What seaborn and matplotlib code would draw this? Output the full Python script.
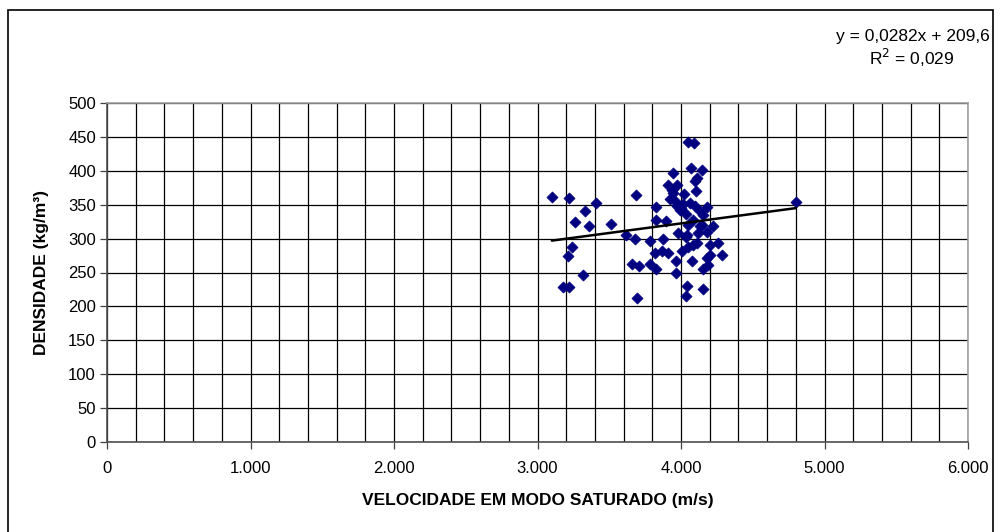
import numpy as np
import pandas as pd
import matplotlib
matplotlib.use("Agg")
import matplotlib.pyplot as plt
import seaborn as sns
from matplotlib.ticker import MultipleLocator, FuncFormatter
from matplotlib.patches import Rectangle

velocidade = [3100, 3220, 3410, 3330, 3260, 3360, 3515, 3240, 3210, 3320, 3180, 3220,
              3617, 3679, 3686, 3696, 3656, 3709, 3784, 3826, 3784, 3877, 3826, 3826,
              3895, 3819, 3865, 3912, 3965, 3965, 4005, 4051, 4086, 4109, 4202, 4260,
              4284, 4202, 4179, 4155, 4190, 4075, 4044, 4155, 4035, 4047, 4093, 3942,
              4072, 4144, 4114, 4098, 3912, 3970, 4105, 3935, 3947, 3923, 4021, 3970,
              4016, 4063, 4098, 3993, 4035, 4179, 4132, 4155, 4086, 4221, 4132, 4179,
              4121, 3981, 4040, 4035, 4801, 3960, 4000, 4050, 4144]
densidade = [362, 360, 352, 340, 325, 318, 322, 287, 275, 247, 228, 228,
             305, 300, 365, 213, 262, 260, 262, 255, 297, 299, 347, 328,
             326, 279, 282, 279, 267, 250, 282, 288, 290, 293, 291, 293,
             276, 276, 272, 255, 261, 267, 230, 226, 215, 443, 441, 397,
             404, 401, 390, 385, 379, 379, 370, 372, 367, 359, 366, 348,
             351, 353, 348, 342, 336, 347, 340, 335, 327, 318, 318, 310,
             308, 308, 305, 302, 354, 355, 345, 320, 320]

slope = 0.0282
intercept = 209.6
eq_text = "y = 0,0282x + 209,6"
r2_text = "R$^2$ = 0,029"
xlabel = "VELOCIDADE EM MODO SATURADO (m/s)"
ylabel = "DENSIDADE (kg/m³)"

df = pd.DataFrame({"v": velocidade, "d": densidade})

sns.set_style("white")
plt.rcParams["font.family"] = ["Liberation Sans", "DejaVu Sans"]
plt.rcParams["text.color"] = "black"
plt.rcParams["axes.labelcolor"] = "black"
plt.rcParams["xtick.color"] = "black"
plt.rcParams["ytick.color"] = "black"

fig = plt.figure(figsize=(10, 5.32), dpi=100)
ax = fig.add_axes([0.107, 1 - 442 / 532, 0.968 - 0.107, (442 - 103) / 532])

# outer chart border
fig.patches.append(Rectangle((0.008, -0.01), 0.985, 1 - 10 / 532 + 0.01,
                             transform=fig.transFigure, fill=False,
                             edgecolor="black", linewidth=1.2))

ax.set_xlim(0, 6000)
ax.set_ylim(0, 500)
ax.xaxis.set_major_locator(MultipleLocator(1000))
ax.xaxis.set_minor_locator(MultipleLocator(200))
ax.yaxis.set_major_locator(MultipleLocator(50))
ax.grid(True, which="major", axis="y", color="black", linewidth=0.9)
ax.grid(True, which="both", axis="x", color="black", linewidth=0.9)
ax.set_axisbelow(True)

sns.scatterplot(data=df, x="v", y="d", marker="D", color="#000080",
                edgecolor="#000080", s=32, linewidth=0.5, ax=ax, zorder=3)

xs = np.array([min(velocidade), max(velocidade)])
ax.plot(xs, slope * xs + intercept, color="black", linewidth=1.8, zorder=4)

ax.xaxis.set_major_formatter(FuncFormatter(lambda v, p: f"{int(v):,}".replace(",", ".")))
ax.tick_params(axis="both", which="major", labelsize=12, length=5, width=0.9,
               color="#404040", labelcolor="black", direction="out")
ax.tick_params(axis="x", which="minor", length=0)
ax.tick_params(axis="x", which="major", pad=9)
ax.tick_params(axis="y", which="major", left=True, pad=3)
ax.tick_params(axis="x", which="major", bottom=True)

for side in ["left", "bottom"]:
    ax.spines[side].set_color("#505050")
    ax.spines[side].set_linewidth(1.2)
for side in ["top", "right"]:
    ax.spines[side].set_color("#a0a0a0")
    ax.spines[side].set_linewidth(1.2)

ax.set_xlabel(xlabel, fontsize=12.5, fontweight="bold", labelpad=12)
ax.set_ylabel(ylabel, fontsize=12.5, fontweight="bold", labelpad=14)

fig.text(0.990, 1 - 37 / 532, eq_text, ha="right", va="center", fontsize=12.5)
fig.text(0.912, 1 - 58 / 532, r2_text, ha="center", va="center", fontsize=12.5)

fig.savefig("out.png", dpi=100)
